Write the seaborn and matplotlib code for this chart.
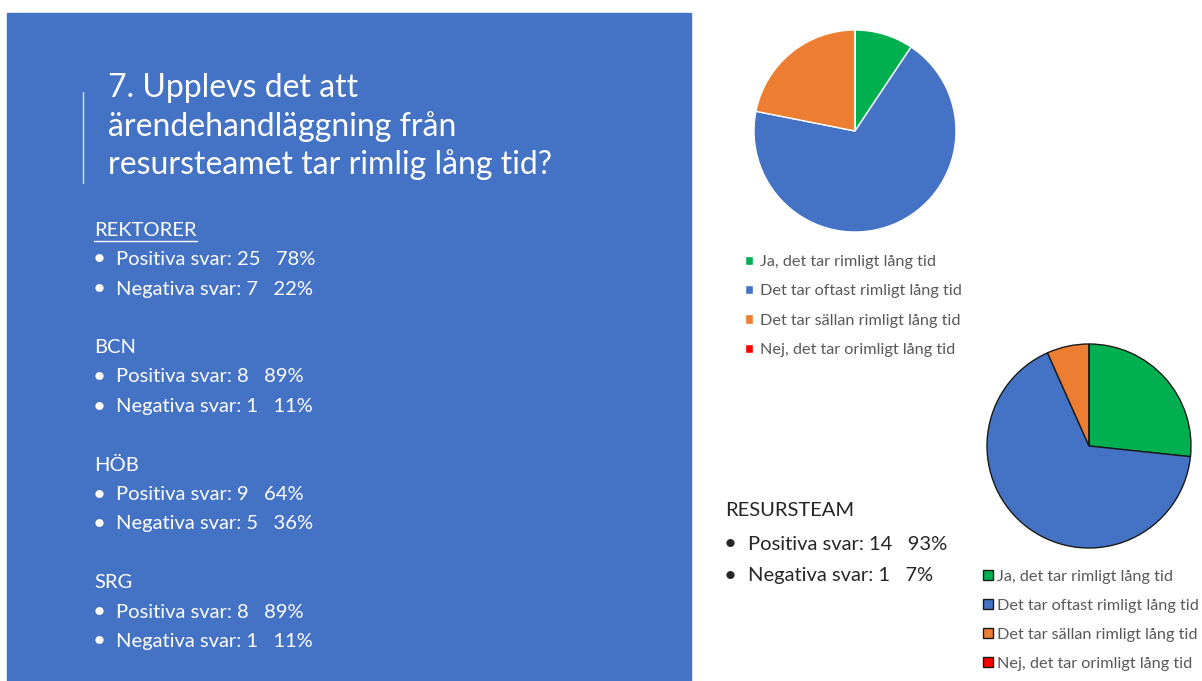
import matplotlib
matplotlib.use("Agg")
import matplotlib.pyplot as plt
import seaborn as sns
from matplotlib.patches import Rectangle
from matplotlib.lines import Line2D

# answers per category (counts)
categories = ["Ja, det tar rimligt lång tid",
              "Det tar oftast rimligt lång tid",
              "Det tar sällan rimligt lång tid",
              "Nej, det tar orimligt lång tid"]
rektorer_counts = [3, 22, 7, 0]
resursteam_counts = [4, 10, 1, 0]
colors = ["#00B050", "#4472C4", "#ED7D31", "#FF0000"]

title_lines = ["7. Upplevs det att", "ärendehandläggning från", "resursteamet tar rimlig lång tid?"]
groups = ["REKTORER", "BCN", "HÖB", "SRG"]
group_lines = [["Positiva svar: 25   78%", "Negativa svar: 7   22%"],
               ["Positiva svar: 8   89%", "Negativa svar: 1   11%"],
               ["Positiva svar: 9   64%", "Negativa svar: 5   36%"],
               ["Positiva svar: 8   89%", "Negativa svar: 1   11%"]]
rt_lines = ["Positiva svar: 14   93%", "Negativa svar: 1   7%"]

sns.set_theme(style="white")
plt.rcParams["font.family"] = ["Lato", "DejaVu Sans"]

W, H = 1202, 681
fig = plt.figure(figsize=(W / 100, H / 100), dpi=100)
fig.patch.set_facecolor("white")


def fx(x):
    return x / W


def fy(y):
    return 1 - y / H


# blue panel
fig.add_artist(Rectangle((fx(7), fy(681)), fx(691) - fx(7), fy(13) - fy(681),
                         transform=fig.transFigure, color="#4472C4", zorder=0))
fig.add_artist(Line2D([fx(83), fx(83)], [fy(92), fy(183)], transform=fig.transFigure,
                      color="white", lw=1, alpha=0.8))

for i, line in enumerate(title_lines):
    fig.text(fx(108), fy(88 + i * 38.5), line, color="white", fontsize=23,
             va="center", ha="left")

y0 = 230
for g, (name, lines) in enumerate(zip(groups, group_lines)):
    yy = y0 + g * 117.5
    t = fig.text(fx(94), fy(yy), name, color="white", fontsize=14.5, va="center")
    if g == 0:
        fig.canvas.draw()
        bb = t.get_window_extent()
        fig.add_artist(Line2D([bb.x0 / W, bb.x1 / W], [fy(yy + 11), fy(yy + 11)],
                              transform=fig.transFigure, color="white", lw=1))
    for k, line in enumerate(lines):
        fig.text(fx(93), fy(yy + 29.5 * (k + 1)), "•", color="white", fontsize=16, va="center")
        fig.text(fx(116), fy(yy + 29.5 * (k + 1)), line, color="white", fontsize=14.5, va="center")

# resursteam text
fig.text(fx(725), fy(510), "RESURSTEAM", color="#262626", fontsize=14.5, va="center")
for k, line in enumerate(rt_lines):
    fig.text(fx(724), fy(544 + 32 * k), "•", color="#262626", fontsize=16, va="center")
    fig.text(fx(748), fy(544 + 32 * k), line, color="#262626", fontsize=14.5, va="center")


def pie_axes(cx, cy, r):
    return fig.add_axes([fx(cx - r), fy(cy + r), 2 * r / W, 2 * r / H])


# pie 1 - rektorer
ax1 = pie_axes(855, 131, 101)
w1, _ = ax1.pie(rektorer_counts, colors=colors, startangle=90, counterclock=False,
                wedgeprops=dict(edgecolor="white", linewidth=1))
ax1.set_xlim(-1, 1)
ax1.set_ylim(-1, 1)
ax1.set_aspect("equal")
ax1.axis("off")
fig.legend(w1, categories, loc="upper left", bbox_to_anchor=(fx(745), fy(255)),
           frameon=False, fontsize=11.7, handlelength=0.5, handleheight=0.5,
           handletextpad=0.4, labelspacing=0.95, borderaxespad=0, borderpad=0,
           labelcolor="#595959")

# pie 2 - resursteam
ax2 = pie_axes(1089, 446, 102)
w2, _ = ax2.pie(resursteam_counts, colors=colors, startangle=90, counterclock=False,
                wedgeprops=dict(edgecolor="#1a1a1a", linewidth=1))
ax2.set_xlim(-1, 1)
ax2.set_ylim(-1, 1)
ax2.set_aspect("equal")
ax2.axis("off")
fig.legend(w2, categories, loc="upper left", bbox_to_anchor=(fx(983), fy(570)),
           frameon=False, fontsize=11.7, handlelength=0.6, handleheight=0.6,
           handletextpad=0.25, labelspacing=0.92, borderaxespad=0, borderpad=0,
           labelcolor="#595959")

fig.savefig("out.png", dpi=100, facecolor="white")
